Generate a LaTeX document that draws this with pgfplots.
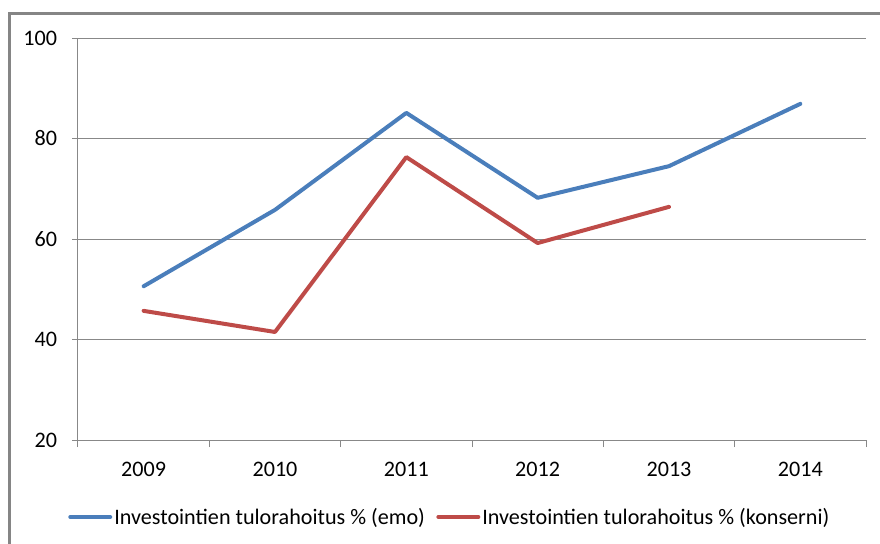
\documentclass[border=0pt]{standalone}
\usepackage{pgfplots}
\pgfplotsset{compat=1.18}
\usepackage{fontspec}
\setmainfont{Carlito}
\definecolor{emo}{HTML}{4A7EBB}
\definecolor{kons}{HTML}{BE4B48}
\definecolor{gridc}{HTML}{888888}
\definecolor{framec}{HTML}{858585}
\begin{document}
\begin{tikzpicture}
\useasboundingbox (0,0) rectangle (660pt,-407.25pt);
\draw[framec, line width=1.6pt] (7.1pt,-410pt) -- (7.1pt,-10.1pt) -- (665pt,-10.1pt);
\begin{axis}[
  at={(58.5pt,-330pt)}, anchor=south west,
  scale only axis, width=591pt, height=301.5pt,
  xmin=-0.5, xmax=5.5, ymin=20, ymax=100,
  axis x line=bottom, axis y line=left,
  axis line style={-, gridc, line width=0.75pt},
  xtick={0,1,2,3,4,5},
  xticklabels={2009,2010,2011,2012,2013,2014},
  major x tick style={draw=none},
  minor xtick={-0.5,0.5,1.5,2.5,3.5,4.5,5.5},
  minor x tick style={gridc, line width=0.75pt},
  minor tick length=5.25pt,
  ytick={20,40,60,80,100},
  ymajorgrids,
  major grid style={gridc, line width=0.75pt},
  major y tick style={gridc, line width=0.75pt},
  major tick length=4.5pt,
  tick align=outside,
  tick label style={font=\fontsize{16.6pt}{19pt}\selectfont, text=black},
  /pgf/number format/assume math mode=true,
  yticklabel style={anchor=east, inner sep=0pt, xshift=-11pt},
  xticklabel style={anchor=north, inner sep=0pt, yshift=-12pt},
  legend columns=2,
  legend style={at={(-0.0127,-0.1915)}, anchor=west, draw=none, fill=none,
    inner sep=0pt, font=\fontsize{16.6pt}{19pt}\selectfont,
    nodes={inner sep=1.5pt},
    /tikz/every even column/.append style={column sep=7pt}},
  legend image code/.code={\draw[#1] (0pt,0pt) -- (30pt,0pt);},
]
\addplot[emo, line width=3pt, line join=round, line cap=round] coordinates {
 (0,50.6) (1,65.8) (2,85.1) (3,68.2) (4,74.5) (5,86.9)};
\addlegendentry{Investointien tulorahoitus \% (emo)}
\addplot[kons, line width=3pt, line join=round, line cap=round] coordinates {
 (0,45.7) (1,41.5) (2,76.3) (3,59.2) (4,66.4)};
\addlegendentry{Investointien tulorahoitus \% (konserni)}
\end{axis}
\end{tikzpicture}
\end{document}
